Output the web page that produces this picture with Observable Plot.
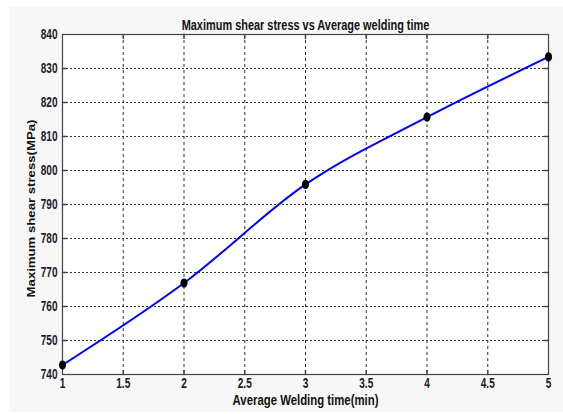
<!DOCTYPE html>
<html>
<head>
<meta charset="utf-8">
<script src="https://cdn.jsdelivr.net/npm/d3@7"></script>
<script src="https://cdn.jsdelivr.net/npm/@observablehq/plot@0.6"></script>
<style>
  html, body { margin: 0; padding: 0; background: #ffffff; }
  #wrap { position: relative; width: 563px; height: 414px; overflow: hidden; }
  #bg { position: absolute; left: 10px; top: 7px; right: 0; bottom: 2px; background: #f7f7f7; }
  #chart { position: absolute; left: 0; top: 0; }
</style>
</head>
<body>
<div id="wrap"><div id="bg"></div><div id="chart"></div></div>
<script>
const times = [1, 2, 3, 4, 5];
const stress = [742.8, 766.9, 795.9, 815.7, 833.4];
const xTicks = [1, 1.5, 2, 2.5, 3, 3.5, 4, 4.5, 5];
const yTicks = [740, 750, 760, 770, 780, 790, 800, 810, 820, 830, 840];
const titleText = "Maximum shear stress vs Average welding time";
const xLabel = "Average Welding time(min)";
const yLabel = "Maximum shear stress(MPa)";

const data = times.map((t, i) => ({t, s: stress[i]}));
const font = "'Liberation Sans', Arial, sans-serif";
const squeeze = 0.72;
const tickShape = {draw(ctx, l) { ctx.moveTo(0, 0); ctx.lineTo(0, -l); }};
// elliptical marker (the picture is narrower horizontally)
const ellipse = {draw(ctx, size) {
  const ry = Math.sqrt(size / Math.PI), rx = ry * 0.78, k = 0.5523;
  ctx.moveTo(rx, 0);
  ctx.bezierCurveTo(rx, k * ry, k * rx, ry, 0, ry);
  ctx.bezierCurveTo(-k * rx, ry, -rx, k * ry, -rx, 0);
  ctx.bezierCurveTo(-rx, -k * ry, -k * rx, -ry, 0, -ry);
  ctx.bezierCurveTo(k * rx, -ry, rx, -k * ry, rx, 0);
  ctx.closePath();
}};
const xInner = xTicks.slice(1, -1);
const yInner = yTicks.slice(1, -1);

const chart = Plot.plot({
  width: 563,
  height: 414,
  marginLeft: 62,
  marginRight: 15,
  marginTop: 34,
  marginBottom: 40,
  style: {background: "transparent", fontFamily: font, fontSize: "14px", fontWeight: "bold", color: "#1a1a1a", overflow: "visible"},
  x: {domain: [1, 5], ticks: xTicks},
  y: {domain: [740, 840], ticks: yTicks},
  marks: [
    Plot.frame({fill: "white", stroke: null}),
    Plot.gridX(xInner, {stroke: "#333", strokeOpacity: 1, strokeDasharray: "3,3"}),
    Plot.gridY(yInner, {stroke: "#333", strokeOpacity: 1, strokeDasharray: "2,2"}),
    Plot.frame({stroke: "#444", strokeWidth: 1.2}),
    Plot.vector(xInner, {x: d => d, y: 740, length: 4, rotate: 0, anchor: "start", shape: tickShape, stroke: "#444"}),
    Plot.vector(xInner, {x: d => d, y: 840, length: 4, rotate: 180, anchor: "start", shape: tickShape, stroke: "#444"}),
    Plot.vector(yInner, {x: 1, y: d => d, length: 4, rotate: 90, anchor: "start", shape: tickShape, stroke: "#444"}),
    Plot.vector(yInner, {x: 5, y: d => d, length: 4, rotate: -90, anchor: "start", shape: tickShape, stroke: "#444"}),
    Plot.axisX(xTicks, {tickSize: 0, tickPadding: 4, tickFormat: d => String(d), label: null, fontWeight: "bold", fill: "#1a1a2a"}),
    Plot.axisY(yTicks, {tickSize: 0, tickPadding: 5, tickFormat: d => String(d), label: null, fontWeight: "bold", fill: "#1a1a2a"}),
    Plot.line(data, {x: "t", y: "s", curve: "monotone-x", stroke: "#0000ff", strokeWidth: 2}),
    Plot.dot(data, {x: "t", y: "s", r: 4.6, symbol: ellipse, fill: "black", stroke: "none"}),
    Plot.text([titleText], {text: d => d, frameAnchor: "top", dy: -14, fontSize: 14, fontWeight: "bold", fill: "#111"}),
    Plot.text([xLabel], {text: d => d, frameAnchor: "bottom", dy: 30, fontSize: 14, fontWeight: "bold", fill: "#111"}),
    Plot.text([yLabel], {text: d => d, frameAnchor: "left", textAnchor: "middle", dx: -32, dy: 4, rotate: -90, fontSize: 12, fontWeight: "bold", fill: "#111"})
  ]
});
document.getElementById("chart").appendChild(chart);

function toPx(v, el) {
  if (v === null || v === "") return 0;
  if (String(v).endsWith("em")) return parseFloat(v) * parseFloat(getComputedStyle(el).fontSize);
  return parseFloat(v) || 0;
}
function squish(el, sx, sy) {
  if (!el) return;
  let t = el.getAttribute("transform") || "";
  const x = el.getAttribute("x"), y = el.getAttribute("y");
  if (x !== null || y !== null) {
    t += ` translate(${toPx(x, el)},${toPx(y, el)})`;
    el.removeAttribute("x");
    el.removeAttribute("y");
  }
  el.setAttribute("transform", `${t} scale(${sx},${sy})`);
}
const allText = Array.from(chart.querySelectorAll("text"));
const findText = s => allText.find(el => el.textContent.trim() === s) || null;
chart.querySelectorAll('g[aria-label="x-axis tick label"] text, g[aria-label="y-axis tick label"] text')
  .forEach(el => squish(el, squeeze, 1));
const title = findText(titleText);
if (title) squish(title, 248 / title.getComputedTextLength(), 1);
const xl = findText(xLabel);
if (xl) squish(xl, 146 / xl.getComputedTextLength(), 1);
const yl = findText(yLabel);
if (yl) {
  yl.setAttribute("font-size", (12 * 178 / yl.getComputedTextLength()).toFixed(2));
  squish(yl, 1, 0.8);
}
</script>
</body>
</html>
